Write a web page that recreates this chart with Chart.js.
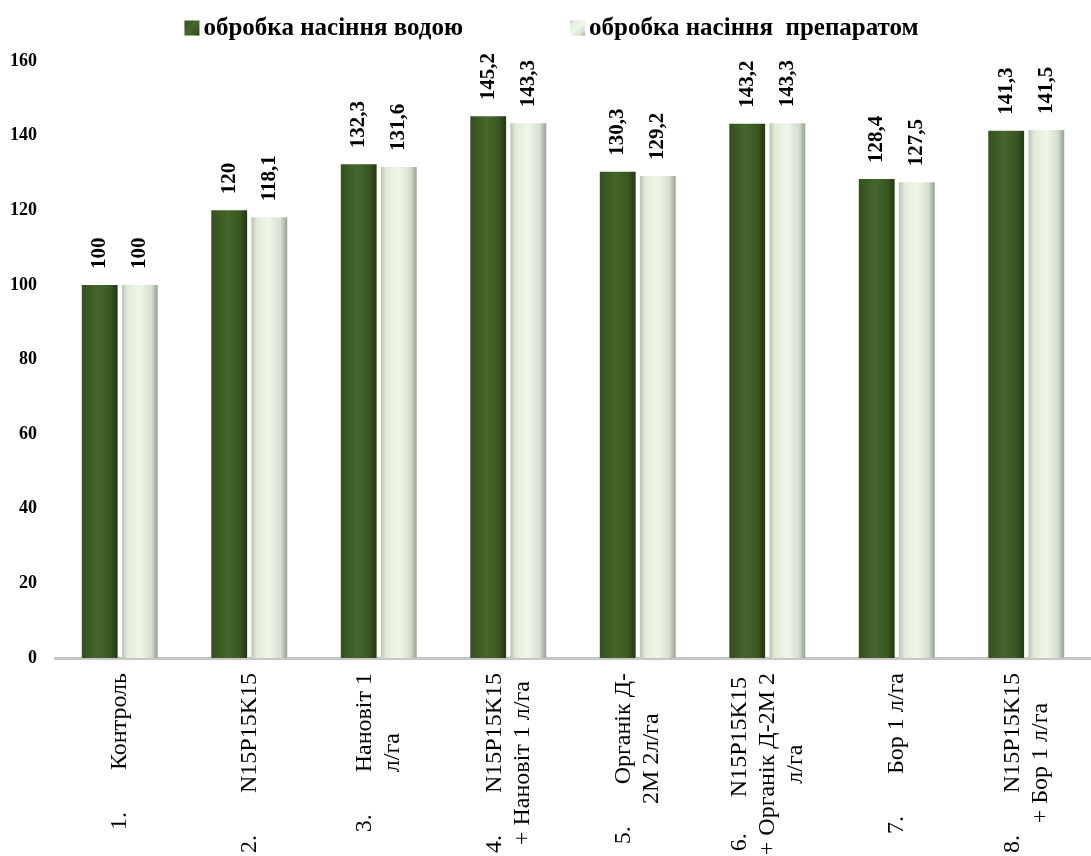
<!DOCTYPE html>
<html lang="uk">
<head>
<meta charset="UTF-8">
<title>Обробка насіння</title>
<script src="https://cdn.jsdelivr.net/npm/chart.js"></script>
<style>
  body { margin: 0; background: #fff; }
</style>
</head>
<body>
<canvas id="chart" width="1091" height="856"></canvas>
<script>
const categories = [
  ['1.       Контроль'],
  ['2.       N15P15K15'],
  ['3.       Нановіт 1', 'л/га'],
  ['4.       N15P15K15', '+ Нановіт 1 л/га'],
  ['5.       Органік Д-', '2М 2л/га'],
  ['6.      N15P15K15', '+ Органік Д-2М 2', 'л/га'],
  ['7.       Бор 1 л/га'],
  ['8.       N15P15K15', '+ Бор 1 л/га']
];
const seriesNames = ['обробка насіння водою', 'обробка насіння  препаратом'];
const waterValues = [100, 120, 132.3, 145.2, 130.3, 143.2, 128.4, 141.3];
const prepValues = [100, 118.1, 131.6, 143.3, 129.2, 143.3, 127.5, 141.5];
const yTicks = [0, 20, 40, 60, 80, 100, 120, 140, 160];

const SERIF = '"Liberation Serif", "Times New Roman", serif';
const CAT_PCT = 0.619;
const BAR_PCT = 0.894;
const darkStops = [[0, '#34501f'], [0.45, '#45672b'], [0.8, '#3a5622'], [1, '#223614']];
const lightStops = [[0, '#b9c4b1'], [0.15, '#e0ebd7'], [0.5, '#eef7e8'], [0.82, '#d5dfcd'], [1, '#98a191']];
const legendColors = ['#3a5824', '#d2ddc8'];

function barFill(stops, fallback) {
  return (c) => {
    const chart = c.chart;
    const xs = chart.scales && chart.scales.x;
    if (!chart.chartArea || !xs || c.type !== 'data') return fallback;
    const center = xs.getPixelForValue(c.dataIndex);
    const slot = xs.width / categories.length * CAT_PCT / 2;
    const w = slot * BAR_PCT;
    const left = center + (c.datasetIndex === 0 ? -slot : 0) + (slot - w) / 2;
    const g = chart.ctx.createLinearGradient(left, 0, left + w, 0);
    stops.forEach(([p, col]) => g.addColorStop(p, col));
    return g;
  };
}

// values written vertically above each bar
const valueLabels = {
  id: 'valueLabels',
  afterDatasetsDraw(chart) {
    const ctx = chart.ctx;
    ctx.save();
    ctx.font = 'bold 21px ' + SERIF;
    ctx.fillStyle = '#000';
    ctx.textAlign = 'left';
    ctx.textBaseline = 'middle';
    chart.data.datasets.forEach((ds, di) => {
      chart.getDatasetMeta(di).data.forEach((bar, i) => {
        ctx.save();
        ctx.translate(bar.x, bar.y - 16);
        ctx.rotate(-Math.PI / 2);
        ctx.fillText(String(ds.data[i]).replace('.', ','), 0, 0);
        ctx.restore();
      });
    });
    ctx.restore();
  }
};

// category names: rotated, lines centred on the tick, shorter lines centred on the longest
const categoryLabels = {
  id: 'categoryLabels',
  afterDraw(chart) {
    const xs = chart.scales.x;
    const ctx = chart.ctx;
    const lineGap = 28;
    const top = xs.top + 15;
    ctx.save();
    ctx.font = '24px ' + SERIF;
    ctx.fillStyle = '#000';
    ctx.textAlign = 'center';
    ctx.textBaseline = 'middle';
    chart.data.labels.forEach((lines, i) => {
      const x0 = xs.getPixelForTick(i);
      const maxW = Math.max(...lines.map(l => ctx.measureText(l).width));
      lines.forEach((l, j) => {
        ctx.save();
        ctx.translate(x0 + (j - (lines.length - 1) / 2) * lineGap, top + maxW / 2);
        ctx.rotate(-Math.PI / 2);
        ctx.fillText(l, 0, 0);
        ctx.restore();
      });
    });
    ctx.restore();
  }
};

// legend: small square right against the bold text
const topLegend = {
  id: 'topLegend',
  afterDraw(chart) {
    const ctx = chart.ctx;
    const names = chart.data.datasets.map(d => d.label);
    ctx.save();
    ctx.font = 'bold 25px ' + SERIF;
    ctx.textBaseline = 'middle';
    ctx.textAlign = 'left';
    const box = 15, boxGap = 4, itemGap = 107, y = 28;
    const widths = names.map(n => ctx.measureText(n).width);
    const total = widths.reduce((s, w) => s + box + boxGap + w, 0) + itemGap * (names.length - 1);
    let x = chart.width / 2 + 6 - total / 2;
    names.forEach((n, i) => {
      const g = ctx.createLinearGradient(x, y - box / 2, x + box, y + box / 2);
      const stops = i === 0 ? darkStops : lightStops;
      stops.forEach(([p, col]) => g.addColorStop(p, col));
      ctx.fillStyle = g;
      ctx.fillRect(x, y - box / 2, box, box);
      ctx.fillStyle = '#000';
      ctx.fillText(n, x + box + boxGap, y + 1);
      x += box + boxGap + widths[i] + itemGap;
    });
    ctx.restore();
  }
};

new Chart(document.getElementById('chart'), {
  type: 'bar',
  data: {
    labels: categories,
    datasets: [
      {
        label: seriesNames[0],
        data: waterValues,
        backgroundColor: barFill(darkStops, legendColors[0]),
        borderWidth: 0,
        categoryPercentage: CAT_PCT,
        barPercentage: BAR_PCT
      },
      {
        label: seriesNames[1],
        data: prepValues,
        backgroundColor: barFill(lightStops, legendColors[1]),
        borderWidth: 0,
        categoryPercentage: CAT_PCT,
        barPercentage: BAR_PCT
      }
    ]
  },
  options: {
    responsive: false,
    animation: false,
    layout: { padding: { left: 0, right: -11, top: 61, bottom: 0 } },
    plugins: {
      tooltip: { enabled: false },
      legend: { display: false }
    },
    scales: {
      x: {
        grid: { display: false },
        border: { display: true, color: '#c6c6c6', width: 3 },
        ticks: { display: false },
        afterFit(scale) { scale.height = 198; }
      },
      y: {
        min: 0,
        max: 160,
        grid: { display: false },
        border: { display: false },
        afterBuildTicks(axis) {
          axis.ticks = yTicks.map(v => ({ value: v }));
        },
        afterFit(scale) { scale.width = 55; },
        ticks: {
          color: '#000',
          font: { family: SERIF, size: 18, weight: 'bold' },
          padding: 10
        }
      }
    }
  },
  plugins: [valueLabels, categoryLabels, topLegend]
});
</script>
</body>
</html>
